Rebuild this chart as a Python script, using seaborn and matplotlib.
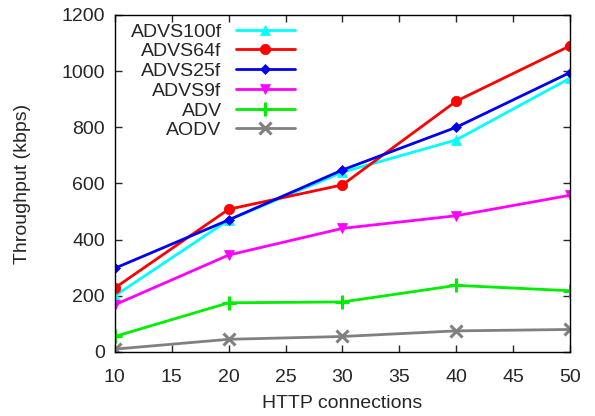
import matplotlib
matplotlib.use("Agg")
import matplotlib.pyplot as plt
import seaborn as sns
import pandas as pd

connections = [10, 20, 30, 40, 50]
advs100f = [200, 470, 640, 755, 975]
advs64f = [228, 508, 595, 893, 1090]
advs25f = [298, 470, 648, 800, 995]
advs9f = [168, 345, 440, 485, 558]
adv = [55, 175, 178, 237, 218]
aodv = [10, 45, 55, 75, 80]

series = [
    ("ADVS100f", advs100f, "#00ffff", "^", 7.5),
    ("ADVS64f", advs64f, "#ff0000", "o", 7.5),
    ("ADVS25f", advs25f, "#0000ee", "D", 5.5),
    ("ADVS9f", advs9f, "#ff00ff", "v", 7.5),
    ("ADV", adv, "#00ee00", "+", 10),
    ("AODV", aodv, "#808080", "x", 8.5),
]

sns.set_style("ticks")
plt.rcParams["font.family"] = ["Liberation Sans", "DejaVu Sans"]

fig = plt.figure(figsize=(5.95, 4.16), dpi=100)
ax = fig.add_axes([0.193, 0.154, 0.765, 0.81])

for name, vals, color, marker, ms in series:
    df = pd.DataFrame({"x": connections, "y": vals})
    sns.lineplot(data=df, x="x", y="y", ax=ax, color=color, marker=marker,
                 markersize=ms, linewidth=2, markeredgewidth=2.2 if marker in "+x" else 0.5,
                 markeredgecolor=color, label=name)

ax.set_xlim(10, 50)
ax.set_ylim(0, 1200)
ax.set_xticks([10, 15, 20, 25, 30, 35, 40, 45, 50])
ax.set_yticks([0, 200, 400, 600, 800, 1000, 1200])
ax.set_xlabel("HTTP connections", fontsize=14, labelpad=7)
ax.set_ylabel("Throughput (kbps)", fontsize=14, labelpad=22)
ax.tick_params(direction="in", length=5, width=1, top=True, right=True, labelsize=14)
ax.tick_params(axis="x", pad=12)
ax.tick_params(axis="y", pad=7)
for s in ax.spines.values():
    s.set_visible(True)
    s.set_linewidth(1)
    s.set_color("black")

leg = ax.legend(loc="upper left", markerfirst=False, frameon=False, fontsize=14,
                handlelength=3.0, handletextpad=0.75, labelspacing=0.11,
                borderaxespad=0.0, borderpad=0.2,
                bbox_to_anchor=(0.026, 0.988))

fig.savefig("out.png", dpi=100)
